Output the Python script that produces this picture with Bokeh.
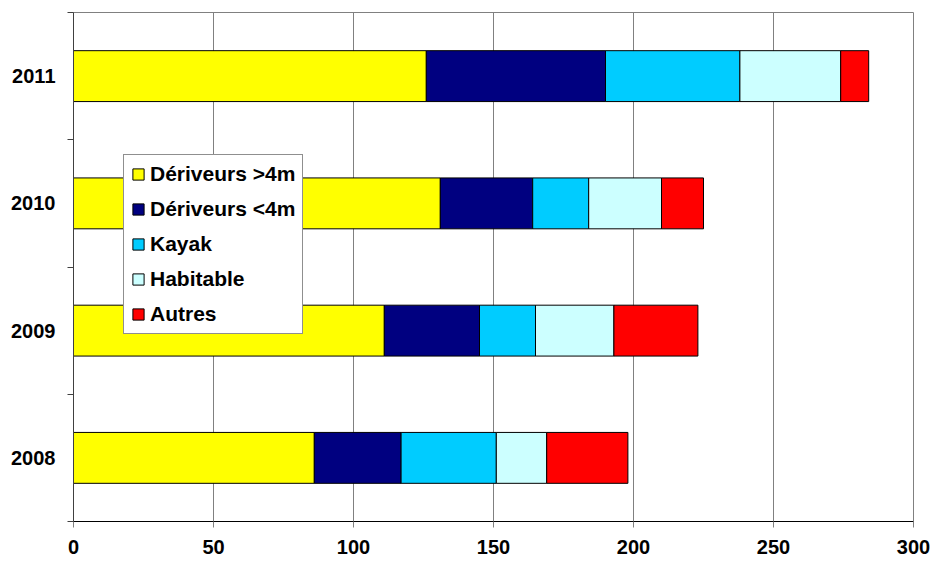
from bokeh.plotting import figure
from bokeh.models import ColumnDataSource, Range1d, FixedTicker, Legend, LegendItem
from bokeh.embed import file_html
from bokeh.resources import INLINE

years = ["2008", "2009", "2010", "2011"]
deriveurs_gt4 = [86, 111, 131, 126]
deriveurs_lt4 = [31, 34, 33, 64]
kayak = [34, 20, 20, 48]
habitable = [18, 28, 26, 36]
autres = [29, 30, 15, 10]

series_names = ["Dériveurs >4m", "Dériveurs <4m", "Kayak", "Habitable", "Autres"]
series_keys = ["d_gt4", "d_lt4", "kayak", "habitable", "autres"]
colors = ["#FFFF00", "#000080", "#00CCFF", "#CCFFFF", "#FF0000"]
x_ticks = [0, 50, 100, 150, 200, 250, 300]

ypos = [i + 0.5 for i in range(len(years))]
src = ColumnDataSource(dict(
    y=ypos, d_gt4=deriveurs_gt4, d_lt4=deriveurs_lt4, kayak=kayak,
    habitable=habitable, autres=autres))

FONT = "Liberation Sans"

p = figure(width=930, height=562, x_range=Range1d(0, 300), y_range=Range1d(0, len(years)),
           output_backend="svg", toolbar_location=None,
           min_border_left=73, min_border_right=17, min_border_top=12, min_border_bottom=41)
p.outline_line_color = "#808080"
p.outline_line_width = 1
p.background_fill_color = "white"

rs = p.hbar_stack(series_keys, y="y", height=0.4, fill_color=colors,
                  line_color="black", line_width=1, source=src)

# grids
p.ygrid.grid_line_color = None
p.xgrid.ticker = FixedTicker(ticks=x_ticks)
p.xgrid.grid_line_color = "#808080"
p.xgrid.grid_line_width = 1

# x axis
xa = p.xaxis[0]
xa.ticker = FixedTicker(ticks=x_ticks)
xa.axis_line_color = "black"
xa.axis_line_width = 1
xa.major_tick_line_color = "#808080"
xa.major_tick_out = 6
xa.major_tick_in = 0
xa.minor_tick_line_color = None
xa.major_label_text_font = FONT
xa.major_label_text_font_style = "bold"
xa.major_label_text_font_size = "20px"
xa.major_label_text_color = "black"
xa.major_label_standoff = 12

# y axis
ya = p.yaxis[0]
ya.ticker = FixedTicker(ticks=ypos, minor_ticks=list(range(len(years) + 1)))
ya.major_label_overrides = {y: lab for y, lab in zip(ypos, years)}
ya.axis_line_color = "#404040"
ya.axis_line_width = 1
ya.major_tick_out = 0
ya.major_tick_in = 0
ya.major_tick_line_color = None
ya.minor_tick_out = 6
ya.minor_tick_in = 0
ya.minor_tick_line_color = "#404040"
ya.major_label_text_font = FONT
ya.major_label_text_font_style = "bold"
ya.major_label_text_font_size = "20px"
ya.major_label_text_color = "black"
ya.major_label_standoff = 12

legend = Legend(
    items=[LegendItem(label=n, renderers=[r]) for n, r in zip(series_names, rs)],
    location=(50, 187), margin=0, padding=7, spacing=11,
    glyph_width=14, glyph_height=14, label_height=24, label_standoff=5,
    label_text_font=FONT, label_text_font_style="bold", label_text_font_size="21px",
    label_text_color="black", border_line_color="#202020", border_line_width=1,
    background_fill_color="white", background_fill_alpha=1.0)
p.add_layout(legend)

open("out.html", "w").write(file_html(p, INLINE))
